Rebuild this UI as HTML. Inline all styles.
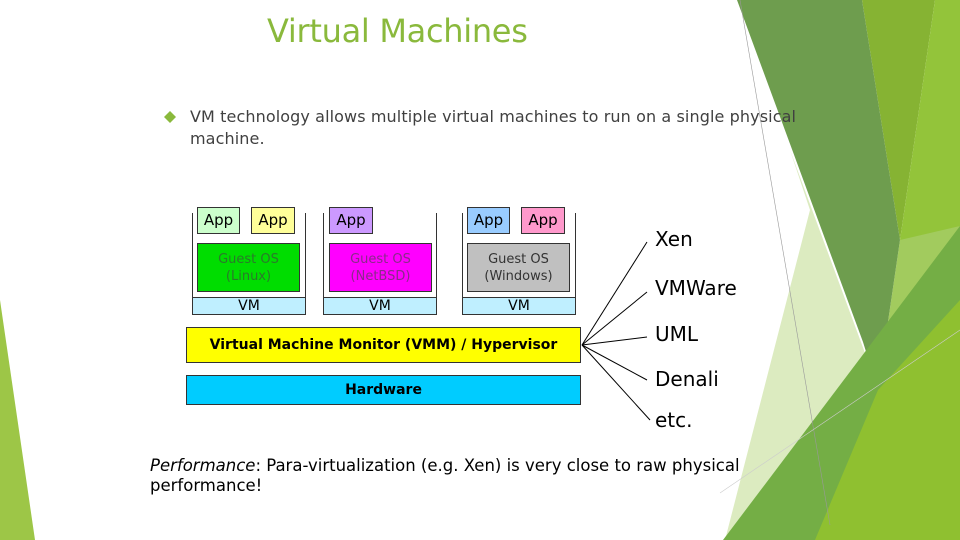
<!DOCTYPE html>
<html><head><meta charset="utf-8"><style>
body{margin:0;width:960px;height:540px;overflow:hidden;background:#fff;position:relative;font-family:"DejaVu Sans","Liberation Sans",sans-serif}
.a{position:absolute}
.b{position:absolute;border:1px solid #333;box-sizing:border-box;display:flex;align-items:center;justify-content:center;text-align:center;line-height:17px}
</style></head><body>
<svg class="a" style="left:0;top:0" width="960" height="540">
<polygon points="0,300 35,540 0,540" fill="#9dc647"/>
<polygon points="790,150 875,380 735,540 725,540 810,210" fill="#dcebc0"/>
<polygon points="862,0 935,0 900,240" fill="#86b333"/>
<polygon points="935,0 960,0 960,540 900,240" fill="#93c43a"/>
<polygon points="900,240 960,226 878,390" fill="#a2cb5e"/>
<polygon points="737,0 862,0 900,240 878,390 863,342" fill="#6e9d4e"/>
<polygon points="723,540 960,226 960,540" fill="#74ae45"/>
<polygon points="878,390 960,300 960,540 815,540" fill="#8fc030"/>
<line x1="740" y1="0" x2="830" y2="525" stroke="#999" stroke-width="0.6"/>
<line x1="720" y1="493" x2="960" y2="330" stroke="#ccc" stroke-width="0.6"/>
<g stroke="#000" stroke-width="1">
<line x1="582" y1="345" x2="647" y2="242"/><line x1="582" y1="345" x2="647" y2="292"/>
<line x1="582" y1="345" x2="647" y2="337"/><line x1="582" y1="345" x2="647" y2="380"/>
<line x1="582" y1="345" x2="650" y2="420"/></g>
<polygon points="170,111 176,117 170,123 164,117" fill="#8ab93c"/>
</svg>
<div class="a" style="left:267px;top:12px;font-size:32px;color:#8ab93c;letter-spacing:-0.3px">Virtual Machines</div>
<div class="a" style="left:190px;top:106px;font-size:16px;color:#404040;line-height:22px;width:640px;letter-spacing:0.1px">VM technology allows multiple virtual machines to run on a single physical<br>machine.</div>

<div class="a" style="left:192px;top:213px;width:114px;height:102px;border:1px solid #333;border-top:none;box-sizing:border-box"></div>
<div class="a" style="left:323px;top:213px;width:114px;height:102px;border:1px solid #333;border-top:none;box-sizing:border-box"></div>
<div class="a" style="left:462px;top:213px;width:114px;height:102px;border:1px solid #333;border-top:none;box-sizing:border-box"></div>
<div class="b" style="left:192px;top:297px;width:114px;height:18px;background:#bfefff;font-size:14px">VM</div>
<div class="b" style="left:323px;top:297px;width:114px;height:18px;background:#bfefff;font-size:14px">VM</div>
<div class="b" style="left:462px;top:297px;width:114px;height:18px;background:#bfefff;font-size:14px">VM</div>
<div class="b" style="left:197px;top:207px;width:43px;height:27px;background:#ccffcc;font-size:15px">App</div>
<div class="b" style="left:251px;top:207px;width:44px;height:27px;background:#ffff99;font-size:15px">App</div>
<div class="b" style="left:329px;top:207px;width:44px;height:27px;background:#cc99ff;font-size:15px">App</div>
<div class="b" style="left:467px;top:207px;width:43px;height:27px;background:#99ccff;font-size:15px">App</div>
<div class="b" style="left:521px;top:207px;width:44px;height:27px;background:#ff99cc;font-size:15px">App</div>
<div class="b" style="left:197px;top:243px;width:103px;height:49px;background:#00dd00;color:#2a7a2a;font-size:13px">Guest OS<br>(Linux)</div>
<div class="b" style="left:329px;top:243px;width:103px;height:49px;background:#ff00ff;color:#8a2a8a;font-size:13px">Guest OS<br>(NetBSD)</div>
<div class="b" style="left:467px;top:243px;width:103px;height:49px;background:#c0c0c0;color:#333;font-size:13px">Guest OS<br>(Windows)</div>
<div class="b" style="left:186px;top:327px;width:395px;height:36px;background:#ffff00;font-size:14px;font-weight:bold">Virtual Machine Monitor (VMM) / Hypervisor</div>
<div class="b" style="left:186px;top:375px;width:395px;height:30px;background:#00ccff;font-size:14px;font-weight:bold">Hardware</div>

<div class="a" style="left:655px;top:227px;font-size:20px">Xen</div>
<div class="a" style="left:655px;top:276px;font-size:20px">VMWare</div>
<div class="a" style="left:655px;top:322px;font-size:20px">UML</div>
<div class="a" style="left:655px;top:367px;font-size:20px">Denali</div>
<div class="a" style="left:655px;top:408px;font-size:20px">etc.</div>
<div class="a" style="left:150px;top:456px;font-size:16.5px;line-height:20px;width:640px;color:#000"><i>Performance</i>: Para-virtualization (e.g. Xen) is very close to raw physical<br>performance!</div>
</body></html>
